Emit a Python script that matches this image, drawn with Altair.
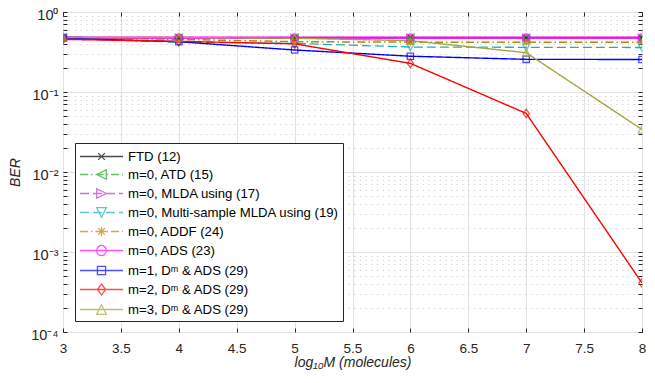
import altair as alt
import pandas as pd

# ---------------- data ----------------
x_vals = [3, 4, 5, 6, 7, 8]
series = [
    "FTD (12)",
    "m=0, ATD (15)",
    "m=0, MLDA using (17)",
    "m=0, Multi-sample MLDA using (19)",
    "m=0, ADDF (24)",
    "m=0, ADS (23)",
    "m=1, D\u1d50 & ADS (29)",
    "m=2, D\u1d50 & ADS (29)",
    "m=3, D\u1d50 & ADS (29)",
]
ftd = [0.48, 0.478, 0.478, 0.478, 0.478, 0.478]
atd = [0.48, 0.478, 0.478, 0.478, 0.478, 0.478]
mlda = [0.48, 0.478, 0.478, 0.478, 0.478, 0.478]
multi = [0.47, 0.42, 0.405, 0.365, 0.362, 0.36]
addf = [0.48, 0.455, 0.425, 0.42, 0.42, 0.42]
ads = [0.478, 0.477, 0.477, 0.477, 0.477, 0.477]
m1 = [0.47, 0.425, 0.335, 0.28, 0.256, 0.255]
m2 = [0.455, 0.43, 0.40, 0.228, 0.054, 0.00041]
m3 = [0.48, 0.48, 0.47, 0.438, 0.31, 0.034]
values = [ftd, atd, mlda, multi, addf, ads, m1, m2, m3]

colors = ["#000000", "#22A822", "#B23CC4", "#17B3B3", "#B8860B",
          "#FF00FF", "#0000FF", "#FF0000", "#A8A33C"]
line_widths = [1.3, 1.3, 1.3, 1.3, 1.5, 2.2, 1.4, 1.4, 1.4]
dash_kinds = ["solid", "dashdot", "dash", "dash", "dashdot",
              "solid", "solid", "solid", "solid"]
marker_kinds = ["x", "tri-left", "tri-right", "tri-down", "asterisk",
                "circle", "square", "diamond", "tri-up"]

x_ticks = [3, 3.5, 4, 4.5, 5, 5.5, 6, 6.5, 7, 7.5, 8]
decades = [1e-4, 1e-3, 1e-2, 1e-1, 1]
minors = [m * 10.0 ** e for e in range(-4, 0) for m in range(2, 10)]

# ---------------- styles ----------------
FONT = "Liberation Sans"
INK = "#262626"
GRID = "#E2E2E2"

dash_px = {"solid": [1, 0], "dash": [9, 4], "dashdot": [8, 3, 1.5, 3]}

def fmt(v):
    return ("%.3f" % v).rstrip("0").rstrip(".")

def marker_path(kind, cx, r):
    if kind == "x":
        q = r * 0.7
        return f"M{fmt(cx-q)},{fmt(-q)}L{fmt(cx+q)},{fmt(q)}M{fmt(cx-q)},{fmt(q)}L{fmt(cx+q)},{fmt(-q)}"
    if kind == "asterisk":
        d = r * 0.707
        return (f"M{fmt(cx)},{fmt(-r)}L{fmt(cx)},{fmt(r)}M{fmt(cx-r)},0L{fmt(cx+r)},0"
                f"M{fmt(cx-d)},{fmt(-d)}L{fmt(cx+d)},{fmt(d)}M{fmt(cx-d)},{fmt(d)}L{fmt(cx+d)},{fmt(-d)}")
    if kind == "tri-left":
        return f"M{fmt(cx-r)},0L{fmt(cx+r)},{fmt(-r)}L{fmt(cx+r)},{fmt(r)}Z"
    if kind == "tri-right":
        return f"M{fmt(cx+r)},0L{fmt(cx-r)},{fmt(-r)}L{fmt(cx-r)},{fmt(r)}Z"
    if kind == "tri-down":
        return f"M{fmt(cx-r)},{fmt(-r)}L{fmt(cx+r)},{fmt(-r)}L{fmt(cx)},{fmt(r)}Z"
    if kind == "tri-up":
        return f"M{fmt(cx-r)},{fmt(r)}L{fmt(cx+r)},{fmt(r)}L{fmt(cx)},{fmt(-r)}Z"
    if kind == "circle":
        return (f"M{fmt(cx+r)},0A{fmt(r)},{fmt(r)} 0 1,1 {fmt(cx-r)},0"
                f"A{fmt(r)},{fmt(r)} 0 1,1 {fmt(cx+r)},0Z")
    if kind == "square":
        q = r * 0.85
        return f"M{fmt(cx-q)},{fmt(-q)}L{fmt(cx+q)},{fmt(-q)}L{fmt(cx+q)},{fmt(q)}L{fmt(cx-q)},{fmt(q)}Z"
    if kind == "diamond":
        return f"M{fmt(cx)},{fmt(-r*1.15)}L{fmt(cx+r*0.85)},0L{fmt(cx)},{fmt(r*1.15)}L{fmt(cx-r*0.85)},0Z"
    return ""

# plot markers (unit box)
plot_shapes = [marker_path(k, 0, 1) for k in marker_kinds]

# legend symbols: line sample + marker, symbol size 289 -> 8.5 px per unit
SYM = 289
PX = (SYM ** 0.5) / 2
LX0, LLEN, LMID = -1.0, 43.0, 21.5

def legend_path(dash_kind, mk):
    pat = dash_px[dash_kind]
    segs = []
    if dash_kind == "solid":
        segs.append((0.0, LLEN))
    else:
        pos, i = 0.0, 0
        while pos < LLEN:
            ln = pat[i % len(pat)]
            if i % 2 == 0:
                segs.append((pos, min(pos + ln, LLEN)))
            pos += ln
            i += 1
    p = ""
    for a, b in segs:
        p += f"M{fmt(LX0 + a / PX)},0L{fmt(LX0 + b / PX)},0"
    p += marker_path(mk, LX0 + LMID / PX, 4.8 / PX)
    return p

legend_shapes = [legend_path(d, m) for d, m in zip(dash_kinds, marker_kinds)]

rows = []
for i, (s, vals) in enumerate(zip(series, values)):
    for xv, yv in zip(x_vals, vals):
        rows.append({"series": s, "x": xv, "y": yv, "lw": line_widths[i], "k": i})
df = pd.DataFrame(rows)

xs = alt.Scale(domain=[3, 8], nice=False, zero=False)
ys = alt.Scale(type="log", domain=[1e-4, 1], nice=False)
color_scale = alt.Scale(domain=series, range=colors)

y_label_expr = ("datum.value > 0.5 ? '10\u2070' : datum.value > 0.05 ? '10\u207b\u00b9' : "
                "datum.value > 0.005 ? '10\u207b\u00b2' : datum.value > 0.0005 ? '10\u207b\u00b3' : '10\u207b\u2074'")

def tick_axis(orient, vals, size=4):
    return alt.Axis(orient=orient, values=vals, offset=-size, tickSize=size, ticks=True,
                    labels=False, domain=False, grid=False, title="", tickColor=INK, tickWidth=1)

# layer 1: lines + main axes
lines = alt.Chart(df).mark_line(clip=True).encode(
    x=alt.X("x:Q", scale=xs, axis=alt.Axis(
        orient="bottom", values=x_ticks, labelExpr="datum.value", grid=True, gridColor=GRID,
        gridWidth=1, ticks=False, domain=False, labelFont=FONT, labelFontSize=13.5,
        labelColor=INK, labelPadding=9, labelFlush=False,
        title="log\u2081\u2080M (molecules)", titleFont=FONT, titleFontSize=14,
        titleFontStyle="italic", titleFontWeight="normal", titleColor=INK, titlePadding=1)),
    y=alt.Y("y:Q", scale=ys, axis=alt.Axis(
        orient="left", values=decades, labelExpr=y_label_expr, grid=True, gridColor=GRID,
        gridWidth=1, ticks=False, domain=False, labelFont=FONT, labelFontSize=14.5,
        labelColor=INK, labelPadding=5, labelOffset=3, labelFlush=False,
        title="BER", titleFont=FONT, titleFontSize=14,
        titleFontStyle="italic", titleFontWeight="normal", titleColor=INK, titlePadding=8)),
    color=alt.Color("series:N", scale=color_scale, legend=None),
    strokeDash=alt.StrokeDash("series:N", scale=alt.Scale(domain=series,
                              range=[dash_px[d] for d in dash_kinds]), legend=None),
    strokeWidth=alt.StrokeWidth("lw:Q", scale=None),
    order=alt.Order("k:Q"),
)

# layer 2: markers + top/right inward ticks
points = alt.Chart(df).mark_point(filled=False, size=55, strokeWidth=1.3, clip=True).encode(
    x=alt.X("x:Q", scale=xs, axis=tick_axis("top", x_ticks)),
    y=alt.Y("y:Q", scale=ys, axis=tick_axis("right", decades + minors)),
    color=alt.Color("series:N", scale=color_scale, legend=None),
    shape=alt.Shape("series:N", scale=alt.Scale(domain=series, range=plot_shapes), legend=None),
)

leg = alt.Legend(orient="none", legendX=12, legendY=131, title=None, labelFont=FONT,
                 labelFontSize=13.2, labelColor="#000000", symbolSize=SYM, symbolStrokeWidth=1.3,
                 labelOffset=30, rowPadding=2, padding=4, strokeColor=INK, fillColor="white",
                 cornerRadius=0, labelLimit=400)

# layer 3: legend carrier (no visible marks) + bottom/left inward ticks
legend_layer = alt.Chart(df).transform_filter("false").mark_point(
    filled=False, size=SYM, strokeWidth=1.3).encode(
    x=alt.X("x:Q", scale=xs, axis=tick_axis("bottom", x_ticks)),
    y=alt.Y("y:Q", scale=ys, axis=tick_axis("left", decades + minors)),
    color=alt.Color("series:N", scale=alt.Scale(domain=series, range=colors), legend=leg),
    shape=alt.Shape("series:N", scale=alt.Scale(domain=series, range=legend_shapes), legend=leg),
)

# layer 4: minor dotted grid
minor_grid = alt.Chart(df).transform_filter("false").mark_point().encode(
    x=alt.X("x:Q", scale=xs, axis=None),
    y=alt.Y("y:Q", scale=ys, axis=alt.Axis(
        orient="left", values=minors, grid=True, gridColor="#CDCDCD", gridDash=[1.2, 4.5],
        gridWidth=1, ticks=False, labels=False, domain=False, title="")),
)

chart = alt.layer(minor_grid, lines, points, legend_layer).resolve_scale(
    color="independent", shape="independent"
).resolve_axis(x="independent", y="independent").properties(
    width=579, height=320,
    autosize=alt.AutoSizeParams(type="none"),
    padding={"left": 55, "top": 4, "right": 5, "bottom": 40},
).configure_view(stroke=INK, strokeWidth=1).configure_axis(labelFont=FONT, titleFont=FONT)

chart.save("out.html", embed_options={"renderer": "svg", "actions": False})
